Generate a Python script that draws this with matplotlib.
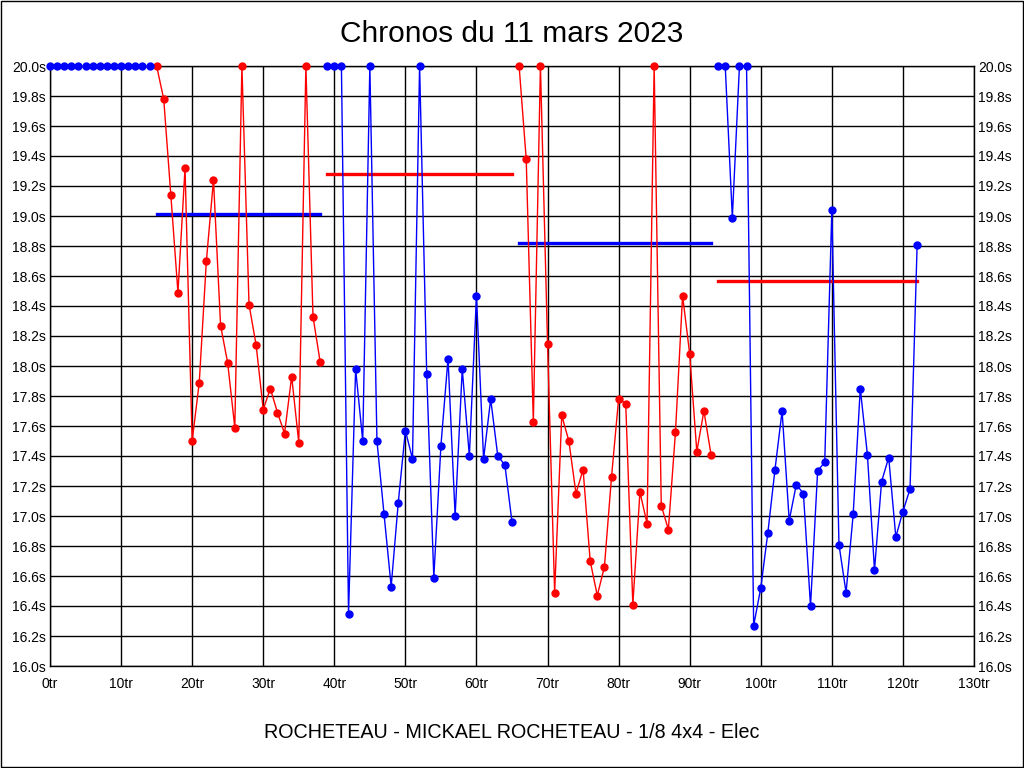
import matplotlib
matplotlib.use("Agg")
import matplotlib.pyplot as plt
from matplotlib.ticker import MultipleLocator, FuncFormatter

plt.rcParams['font.family'] = ['Liberation Sans', 'DejaVu Sans']

# laps before the first timed run (all capped at 20.0s)
warmup_laps = list(range(0, 15))
warmup_times = [20.0] * 15

# run 1 (red)
run1_laps = list(range(15, 39))
run1_times = [20.0, 19.78, 19.14, 18.49, 19.32, 17.50, 17.89, 18.70, 19.24, 18.27,
              18.02, 17.59, 20.0, 18.41, 18.14, 17.71, 17.85, 17.69, 17.55, 17.93,
              17.49, 20.0, 18.33, 18.03]

# run 2 (blue)
run2_laps = list(range(39, 66))
run2_times = [20.0, 20.0, 20.0, 16.35, 17.98, 17.50, 20.0, 17.50, 17.01, 16.53,
              17.09, 17.57, 17.38, 20.0, 17.95, 16.59, 17.47, 18.05, 17.00, 17.98,
              17.40, 18.47, 17.38, 17.78, 17.40, 17.34, 16.96]

# run 3 (red)
run3_laps = list(range(66, 94))
run3_times = [20.0, 19.38, 17.63, 20.0, 18.15, 16.49, 17.67, 17.50, 17.15, 17.31,
              16.70, 16.47, 16.66, 17.26, 17.78, 17.75, 16.41, 17.16, 16.95, 20.0,
              17.07, 16.91, 17.56, 18.47, 18.08, 17.43, 17.70, 17.41]

# run 4 (blue)
run4_laps = list(range(94, 123))
run4_times = [20.0, 20.0, 18.99, 20.0, 20.0, 16.27, 16.52, 16.89, 17.31, 17.70,
              16.97, 17.21, 17.15, 16.40, 17.30, 17.36, 19.04, 16.81, 16.49, 17.01,
              17.85, 17.41, 16.64, 17.23, 17.39, 16.86, 17.03, 17.18, 18.81]

# average lines: (first lap, last lap, value, colour)
averages = [(15, 38, 19.01, 'blue'),
            (39, 65, 19.28, 'red'),
            (66, 93, 18.82, 'blue'),
            (94, 122, 18.57, 'red')]

fig = plt.figure(figsize=(10.24, 7.68), dpi=100)
ax = fig.add_axes([50 / 1024, 102 / 768, 924 / 1024, 600 / 768])

ax.plot(warmup_laps + [15], warmup_times + [20.0], color='red', lw=1,
        zorder=3, clip_on=False)
ax.plot(warmup_laps, warmup_times, 'o', color='blue', ms=5, zorder=4, clip_on=False)

runs = [(run1_laps, run1_times, 'red'),
        (run2_laps, run2_times, 'blue'),
        (run3_laps, run3_times, 'red'),
        (run4_laps, run4_times, 'blue')]
for laps, times, col in runs:
    ax.plot(laps, times, '-o', color=col, lw=1, ms=5, zorder=3, clip_on=False)

for start, end, val, col in averages:
    ax.plot([start, end], [val, val], color=col, lw=2.4, zorder=2)

ax.set_xlim(0, 130)
ax.set_ylim(16.0, 20.0)
ax.xaxis.set_major_locator(MultipleLocator(10))
ax.yaxis.set_major_locator(MultipleLocator(0.2))
ax.xaxis.set_major_formatter(FuncFormatter(lambda v, p: '%dtr' % round(v)))
ax.yaxis.set_major_formatter(FuncFormatter(lambda v, p: '%.1fs' % v))
ax.grid(True, color='black', lw=1)
ax.set_axisbelow(True)
ax.tick_params(axis='both', length=0, labelsize=10)
ax.tick_params(axis='x', pad=8)
ax.tick_params(axis='y', pad=3, right=True, labelright=True)
for s in ax.spines.values():
    s.set_linewidth(1)

fig.text(0.5, 1 - 34 / 768, 'Chronos du 11 mars 2023', ha='center', va='center',
         fontsize=21.5)
fig.text(0.5, 1 - 733 / 768, 'ROCHETEAU - MICKAEL ROCHETEAU - 1/8 4x4 - Elec',
         ha='center', va='center', fontsize=14.2)

# thin frame round the whole picture
fig.patches.append(plt.Rectangle((0.0005, 0.0007), 0.999, 0.9986, transform=fig.transFigure,
                                 fill=False, edgecolor='black', lw=1))

fig.savefig('out.png', dpi=100)
